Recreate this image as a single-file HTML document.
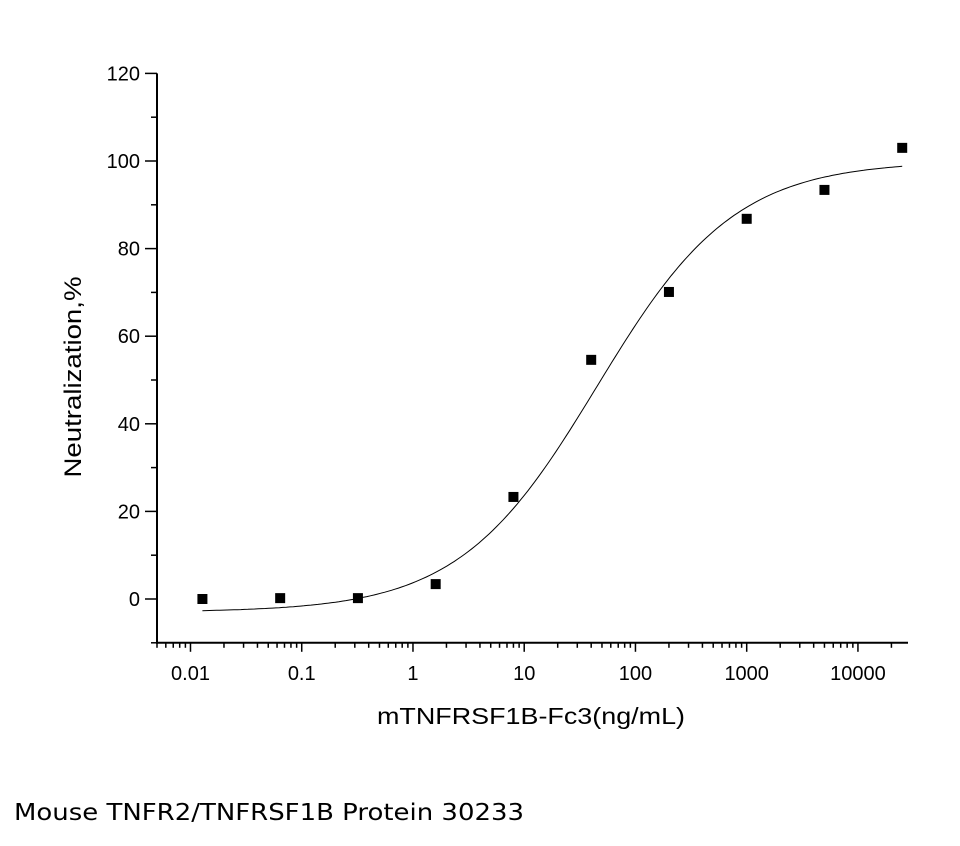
<!DOCTYPE html>
<html><head><meta charset="utf-8"><style>
body{margin:0;background:#fff;width:960px;height:841px;overflow:hidden}
svg text{font-family:"Liberation Sans",Arial,sans-serif;fill:#000}
</style></head><body>
<svg id="chart" width="960" height="841">
<g id="axes"></g><g id="marks"></g>
<text x="531" y="724" font-size="23" text-anchor="middle" textLength="308" lengthAdjust="spacingAndGlyphs">mTNFRSF1B-Fc3(ng/mL)</text>
<text transform="translate(81,377) rotate(-90)" font-size="24" text-anchor="middle" textLength="201" lengthAdjust="spacingAndGlyphs">Neutralization,%</text>
<text x="14" y="820" font-size="23" textLength="510" lengthAdjust="spacingAndGlyphs" style="font-family:'DejaVu Sans','Liberation Sans',sans-serif">Mouse TNFR2/TNFRSF1B Protein 30233</text>
</svg>
<script>
const doses=[0.0128,0.064,0.32,1.6,8,40,200,1000,5000,25000];
const neutralization=[0,0.2,0.2,3.4,23.3,54.6,70.1,86.8,93.4,103.0];
const fitBottom=-3, fitTop=100, fitEC50=45, fitHill=0.7;
const yTicks=[0,20,40,60,80,100,120];
const xTickLabels=["0.01","0.1","1","10","100","1000","10000"];
const xTickValues=[0.01,0.1,1,10,100,1000,10000];
const NS="http://www.w3.org/2000/svg";
const X0=157,X1=908,Y0=642.8,Y1=73.4,xmin=Math.log10(0.005),xmax=4.45,ymin=-10,ymax=120;
const sx=v=>X0+(Math.log10(v)-xmin)/(xmax-xmin)*(X1-X0);
const sy=v=>Y0+(v-ymin)/(ymax-ymin)*(Y1-Y0);
function mk(tag,attrs,parent){const e=document.createElementNS(NS,tag);for(const k in attrs)e.setAttribute(k,attrs[k]);parent.appendChild(e);return e;}
const axes=document.getElementById('axes'),marks=document.getElementById('marks');
let l=mk('line',{x1:X0,y1:Y1,x2:X0,y2:Y0+1,stroke:'#000','stroke-width':2},axes);


l=mk('line',{x1:X0-1,y1:Y0,x2:X1,y2:Y0,stroke:'#000','stroke-width':2},axes);


for(let v=-10;v<=120;v+=10){const major=v%20===0;
 const t=mk('line',{x1:X0-(major?12:6),x2:X0,y1:sy(v),y2:sy(v),stroke:'#000','stroke-width':1.5},axes);
 
 }
yTicks.forEach(v=>{const t=mk('text',{x:X0-17,y:sy(v)+7,'font-size':20,'text-anchor':'end'},axes);t.textContent=v;
 
 });
for(let d=-3;d<=4;d++)for(let m=1;m<=9;m++){const v=m*Math.pow(10,d);if(Math.log10(v)<xmin-1e-9||Math.log10(v)>xmax)continue;
 const x=sx(v);const t=mk('line',{x1:x,x2:x,y1:Y0,y2:Y0+(m===1?9:5),stroke:'#000','stroke-width':1.5},axes);
 
 }
xTickValues.forEach((v,i)=>{const t=mk('text',{x:sx(v),y:Y0+37,'font-size':20,'text-anchor':'middle'},axes);t.textContent=xTickLabels[i];
 
 });
const f=x=>fitBottom+(fitTop-fitBottom)/(1+Math.pow(fitEC50/x,fitHill));
let d='';const a=Math.log10(doses[0]),b=Math.log10(doses[doses.length-1]);
for(let i=0;i<=200;i++){const lx=a+(b-a)*i/200,x=Math.pow(10,lx);d+=(i?'L':'M')+sx(x).toFixed(1)+','+sy(f(x)).toFixed(1);}
const c=mk('path',{d:d,fill:'none',stroke:'#000','stroke-width':1},marks);


doses.forEach((v,i)=>{const p=mk('rect',{x:sx(v)-5,y:sy(neutralization[i])-5,width:10,height:10,fill:'#000'},marks);
 
 });
</script>
</body></html>
